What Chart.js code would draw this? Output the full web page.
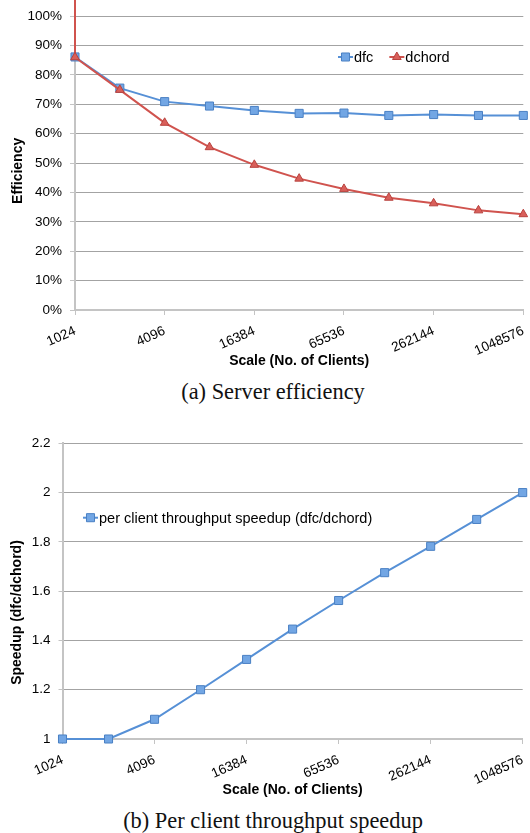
<!DOCTYPE html>
<html>
<head>
<meta charset="utf-8">
<script src="https://cdn.jsdelivr.net/npm/chart.js@4.4.1/dist/chart.umd.min.js"></script>
<style>
  body { margin: 0; background: #fff; width: 530px; height: 833px; position: relative; overflow: hidden; }
  canvas { position: absolute; left: 0; }
  #eff { top: 0; }
  #spd { top: 420px; }
  .cap { position: absolute; left: 0; width: 546px; text-align: center;
         font-family: "Liberation Serif", "Times New Roman", serif; font-size: 22.4px; color: #111; line-height: 26px; }
</style>
</head>
<body>
<canvas id="eff" width="530" height="375"></canvas>
<div class="cap" style="top:379px">(a) Server efficiency</div>
<canvas id="spd" width="530" height="383"></canvas>
<div class="cap" style="top:808px">(b) Per client throughput speedup</div>
<script>
'use strict';

// x categories (number of clients)
var clients = ['1024', '2048', '4096', '8192', '16384', '32768', '65536',
               '131072', '262144', '524288', '1048576'];

// (a) server efficiency, %
var dfc = [86.1, 75.5, 70.9, 69.4, 67.9, 66.9, 67.0, 66.2, 66.5, 66.2, 66.2];
var dchord = [86.0, 74.9, 63.7, 55.4, 49.4, 44.7, 41.2, 38.2, 36.3, 33.9, 32.6];
// the dchord line in the original starts off the top of the plot at 1024
var dchordLead = 150;

// (b) per client throughput speedup
var speedup = [1.0, 1.0, 1.08, 1.20, 1.323, 1.446, 1.562, 1.675, 1.782, 1.891, 2.0];

var FONT = '"Liberation Sans", Arial, Helvetica, sans-serif';
var gridGray = '#a3a3a3';
var axisGray = '#c4c4c4';
var blueLine = '#5690d6', blueFill = '#72a6e4', blueEdge = '#4a80c4';
var redLine = '#d0534e', redFill = '#d95f5a', redEdge = '#b8423e';

function pts(arr) {
	return arr.map(function(v, i) { return {x: i, y: v}; });
}

// legend drawn inside the plot like the excel one
var insideLegend = {
	id: 'insideLegend',
	afterDraw: function(chart, args, opts) {
		var ctx = chart.ctx;
		var x = opts.x, y = opts.y;
		ctx.save();
		ctx.font = '14.5px ' + FONT;
		ctx.textBaseline = 'middle';
		ctx.textAlign = 'left';
		chart.data.datasets.forEach(function(ds) {
			ctx.strokeStyle = ds.borderColor;
			ctx.lineWidth = 2;
			ctx.beginPath();
			ctx.moveTo(x, y);
			ctx.lineTo(x + 15, y);
			ctx.stroke();
			ctx.fillStyle = ds.backgroundColor;
			ctx.strokeStyle = ds.pointBorderColor;
			ctx.lineWidth = 1;
			Chart.helpers.drawPoint(ctx, {pointStyle: ds.pointStyle, radius: ds.markerSize, borderWidth: 1}, x + 7.5, y);
			ctx.fillStyle = '#000';
			ctx.fillText(ds.label, x + 16, y + 1);
			x += 16 + ctx.measureText(ds.label).width + opts.gap;
		});
		ctx.restore();
	}
};

function xScale(h, titlePadBottom) {
	return {
		type: 'linear', min: 0, max: clients.length - 1,
		afterFit: function(s) { s.height = h; s.paddingLeft = 0; s.paddingRight = 0; },
		ticks: {
			stepSize: 2, autoSkip: false, minRotation: 24, maxRotation: 24, padding: 8,
			color: '#000', font: {family: FONT, size: 13.5},
			callback: function(v) { return clients[v]; }
		},
		grid: {drawOnChartArea: false, drawTicks: true, tickLength: 5, color: axisGray, lineWidth: 1},
		border: {color: axisGray, width: 2},
		title: {display: true, text: 'Scale (No. of Clients)', color: '#000',
			font: {family: FONT, size: 14, weight: 'bold'}, padding: {top: 0, bottom: titlePadBottom}}
	};
}

function gridColor(c) {
	return c.index === 0 ? 'rgba(0,0,0,0)' : gridGray;
}

//(a) 伺服器效率
new Chart(document.getElementById('eff'), {
	type: 'line',
	data: {
		datasets: [{
			label: 'dfc',
			data: pts(dfc),
			borderColor: blueLine, backgroundColor: blueFill, pointBorderColor: blueEdge,
			pointBackgroundColor: blueFill, pointStyle: 'rect', pointRadius: 5.7, markerSize: 5.7,
			borderWidth: 2, pointBorderWidth: 1, tension: 0, order: 1, clip: false
		}, {
			label: 'dchord',
			data: [{x: 0, y: dchordLead}].concat(pts(dchord)),
			borderColor: redLine, backgroundColor: redFill, pointBorderColor: redEdge,
			pointBackgroundColor: redFill, pointStyle: 'triangle', markerSize: 5,
			pointRadius: function(c) { return c.dataIndex === 0 ? 0 : 5; },
			borderWidth: 2, pointBorderWidth: 1, tension: 0, order: 0, clip: false
		}]
	},
	options: {
		responsive: false, animation: false,
		layout: {padding: {top: 13, right: 3, left: 0, bottom: 0}},
		plugins: {
			legend: {display: false}, tooltip: {enabled: false},
			insideLegend: {x: 338, y: 57, gap: 16}
		},
		scales: {
			x: xScale(65, 5),
			y: {
				min: 0, max: 100,
				afterFit: function(s) { s.width = 75; },
				ticks: {stepSize: 10, padding: 8, color: '#000', font: {family: FONT, size: 13.5},
					callback: function(v) { return v + '%'; }},
				grid: {color: gridColor, lineWidth: 1, tickLength: 5, tickColor: axisGray},
				border: {color: axisGray, width: 2},
				// trailing spaces push the rotated title down like the original
				title: {display: true, text: 'Efficiency    ', color: '#000',
					font: {family: FONT, size: 14, weight: 'bold'}, padding: {top: 10, bottom: 0}}
			}
		}
	},
	plugins: [insideLegend]
});

//(b) 每個客戶端的吞吐量加速
new Chart(document.getElementById('spd'), {
	type: 'line',
	data: {
		datasets: [{
			label: 'per client throughput speedup (dfc/dchord)',
			data: pts(speedup),
			borderColor: blueLine, backgroundColor: blueFill, pointBorderColor: blueEdge,
			pointBackgroundColor: blueFill, pointStyle: 'rect', pointRadius: 5.7, markerSize: 5.7,
			borderWidth: 2, pointBorderWidth: 1, tension: 0, clip: false
		}]
	},
	options: {
		responsive: false, animation: false,
		layout: {padding: {top: 23.3, right: 7.3, left: 0, bottom: 0}},
		plugins: {
			legend: {display: false}, tooltip: {enabled: false},
			insideLegend: {x: 83, y: 97.7, gap: 16}
		},
		scales: {
			x: xScale(64, 4.6),
			y: {
				min: 1, max: 2.2,
				afterFit: function(s) { s.width = 62.5; },
				ticks: {stepSize: 0.2, padding: 8, color: '#000', font: {family: FONT, size: 13.5},
					callback: function(v) { return String(+v.toFixed(1)); }},
				grid: {color: gridColor, lineWidth: 1, tickLength: 4, tickColor: axisGray},
				border: {color: axisGray, width: 2},
				title: {display: true, text: 'Speedup (dfc/dchord)           ', color: '#000',
					font: {family: FONT, size: 14, weight: 'bold'}, padding: {top: 8.5, bottom: 0}}
			}
		}
	},
	plugins: [insideLegend]
});
</script>
</body>
</html>
